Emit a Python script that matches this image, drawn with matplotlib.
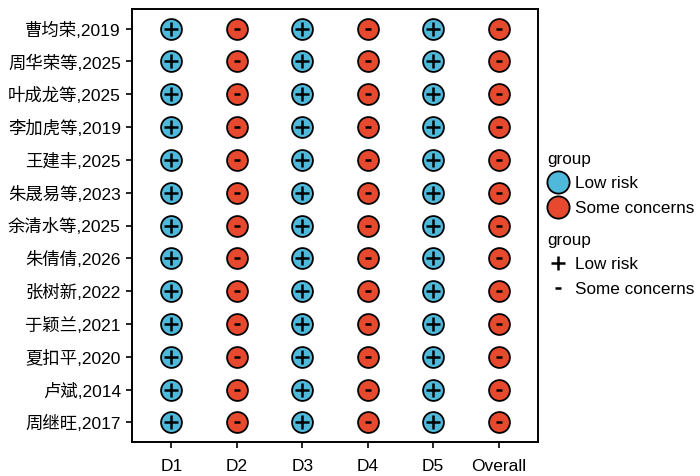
import matplotlib
matplotlib.use("Agg")
import matplotlib.pyplot as plt
from matplotlib.lines import Line2D

plt.rcParams['font.family'] = ['Liberation Sans', 'Noto Sans CJK SC', 'DejaVu Sans']

studies = ["曹均荣,2019", "周华荣等,2025", "叶成龙等,2025", "李加虎等,2019", "王建丰,2025",
           "朱晟易等,2023", "余清水等,2025", "朱倩倩,2026", "张树新,2022", "于颖兰,2021",
           "夏扣平,2020", "卢斌,2014", "周继旺,2017"]
domains = ["D1", "D2", "D3", "D4", "D5", "Overall"]
# judgement per domain (same for all studies): L = Low risk, S = Some concerns
judgements = {
    "D1": ["L"] * 13,
    "D2": ["S"] * 13,
    "D3": ["L"] * 13,
    "D4": ["S"] * 13,
    "D5": ["L"] * 13,
    "Overall": ["S"] * 13,
}
colors = {"L": "#4FB9DC", "S": "#E6492D"}

fig = plt.figure(figsize=(7, 4.76), dpi=100)
ax = fig.add_axes([132/700, 1-442/476, (538-132)/700, (442-9)/476])

n = len(studies)
for xi, d in enumerate(domains):
    for yi, s in enumerate(studies):
        j = judgements[d][yi]
        y = n - yi
        ax.plot(xi + 1, y, marker='o', ms=15, mfc=colors[j], mec='black', mew=1.3, ls='none', zorder=2)
        if j == "L":
            ax.plot(xi + 1, y, marker='+', ms=10.5, mec='black', mew=1.8, ls='none', zorder=3)
        else:
            ax.plot(xi + 1, y, marker='_', ms=5, mec='black', mew=1.8, ls='none', zorder=3)

ax.set_xlim(0.4, len(domains) + 0.6)
ax.set_ylim(0.4, n + 0.6)
ax.set_xticks(range(1, len(domains) + 1))
ax.set_xticklabels(domains, fontsize=12.5)
ax.set_yticks([n - i for i in range(n)])
ax.set_yticklabels(studies, fontsize=12.5)
for sp in ax.spines.values():
    sp.set_linewidth(1.4)
ax.tick_params(axis='both', length=4, width=1.2, colors='black')
ax.tick_params(axis='x', pad=8)
ax.tick_params(axis='y', pad=4)

h1 = [Line2D([], [], marker='o', ms=16, mfc=colors["L"], mec='black', mew=1.3, ls='none'),
      Line2D([], [], marker='o', ms=16, mfc=colors["S"], mec='black', mew=1.3, ls='none')]
leg1 = fig.legend(h1, ["Low risk", "Some concerns"], title="group", loc='upper left',
                  bbox_to_anchor=(547/700, 1-152/476), frameon=False, fontsize=12.3,
                  title_fontsize=12.3, alignment='left', handletextpad=0.35,
                  labelspacing=0.55, handlelength=1.3, borderaxespad=0, borderpad=0)
h2 = [Line2D([], [], marker='+', ms=10, mec='black', mew=1.8, ls='none'),
      Line2D([], [], marker='_', ms=5, mec='black', mew=1.8, ls='none')]
leg2 = fig.legend(h2, ["Low risk", "Some concerns"], title="group", loc='upper left',
                  bbox_to_anchor=(547/700, 1-233/476), frameon=False, fontsize=12.3,
                  title_fontsize=12.3, alignment='left', handletextpad=0.35,
                  labelspacing=0.55, handlelength=1.3, borderaxespad=0, borderpad=0)

fig.savefig("out.png", dpi=100)
